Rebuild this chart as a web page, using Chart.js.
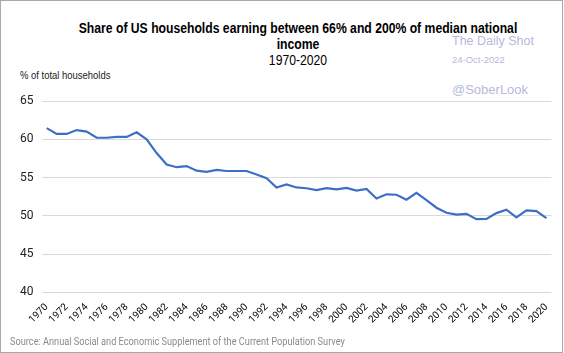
<!DOCTYPE html>
<html>
<head>
<meta charset="utf-8">
<script src="https://cdn.jsdelivr.net/npm/chart.js@4.4.0/dist/chart.umd.min.js"></script>
<style>
  html, body { margin: 0; padding: 0; background: #fff; }
  #wrap { position: relative; width: 564px; height: 353px; overflow: hidden; }
  #frame { position: absolute; left: 0; top: 0; width: 563px; height: 353px; box-sizing: border-box; border: 1px solid #a9a9a9; }
  #chart { position: absolute; left: 0; top: 0; }
  .txt { position: absolute; white-space: nowrap; }
  /* police étroite simulée avec scaleX */
  #title { left: 6px; width: 584px; top: 21px; text-align: center; font: bold 14px "Liberation Sans", Arial, sans-serif; color: #000; line-height: 15.5px; transform: scaleX(0.87); transform-origin: 292px 0; }
  #sub { left: 6px; width: 584px; top: 52px; text-align: center; font: 14px "Liberation Sans", Arial, sans-serif; color: #000; transform: scaleX(0.87); transform-origin: 292px 0; }
  #unit { left: 20px; top: 69px; font: 11px "Liberation Sans", Arial, sans-serif; color: #222; transform: scaleX(0.86); transform-origin: 0 0; }
  .wm { color: #b5b9dd; font-family: "Liberation Sans", Arial, sans-serif; left: 452px; }
  #src { left: 10px; top: 336px; font: 10px Roboto, sans-serif; color: #8a8a8a; transform: scaleX(0.92); transform-origin: 0 0; }
</style>
</head>
<body>
<div id="wrap">
  <div id="frame"></div>
  <div class="txt wm" style="top:34px;font-size:12.5px;">The Daily Shot</div>
  <div class="txt wm" style="top:54px;font-size:9.5px;">24-Oct-2022</div>
  <div class="txt wm" style="top:82px;font-size:13px;">@SoberLook</div>
  <div class="txt" id="title">Share of US households earning between 66% and 200% of median national<br>income</div>
  <div class="txt" id="sub">1970-2020</div>
  <div class="txt" id="unit">% of total households</div>
  <canvas id="chart" width="564" height="353"></canvas>
  <div class="txt" id="src">Source: Annual Social and Economic Supplement of the Current Population Survey</div>
</div>
<script>
// données
const years = [];
for (let y = 1970; y <= 2020; y++) years.push(String(y));

const middleShare = [
  61.45, 60.7, 60.7, 61.2, 61.0, 60.2, 60.2, 60.3, 60.3, 60.9,
  60.0, 58.2, 56.7, 56.35, 56.5, 55.9, 55.75, 56.0, 55.85, 55.85,
  55.85, 55.4, 54.9, 53.7, 54.1, 53.7, 53.6, 53.35, 53.6, 53.45,
  53.65, 53.3, 53.5, 52.25, 52.8, 52.75, 52.1, 53.0, 52.05, 51.05,
  50.4, 50.15, 50.25, 49.55, 49.6, 50.35, 50.8, 49.8, 50.7, 50.6,
  49.7
];

const yTicks = [40, 45, 50, 55, 60, 65];

const ctx = document.getElementById('chart').getContext('2d');

new Chart(ctx, {
  type: 'line',
  data: {
    labels: years,
    datasets: [{
      data: middleShare,
      borderColor: '#3d6fc6',
      borderWidth: 2.2,
      pointRadius: 0,
      tension: 0,
      fill: false
    }]
  },
  options: {
    responsive: false,
    animation: false,
    layout: { padding: { top: 101, left: 20, right: 11.3, bottom: 20 } },
    plugins: {
      legend: { display: false },
      tooltip: { enabled: false }
    },
    scales: {
      x: {
        offset: true,
        grid: { display: false, drawTicks: false },
        border: { display: false },
        ticks: {
          autoSkip: false,
          minRotation: 45,
          maxRotation: 45,
          padding: 9,
          color: '#000',
          font: { family: 'Roboto, sans-serif', size: 10 },
          callback: function(value, index) {
            return index % 2 === 0 ? this.getLabelForValue(value) : '';
          }
        },
        afterFit: function(scale) { scale.height = 353 - 292.3 - 20; }
      },
      y: {
        min: 40,
        max: 65,
        afterBuildTicks: function(scale) {
          scale.ticks = yTicks.map(v => ({ value: v }));
        },
        grid: { color: '#d9d9d9', lineWidth: 1, drawTicks: false },
        border: { display: false },
        ticks: {
          crossAlign: 'far',
          padding: 0,
          color: '#222',
          font: { family: 'Roboto, sans-serif', size: 12 }
        },
        afterFit: function(scale) { scale.width = 21.7; }
      }
    }
  }
});
</script>
</body>
</html>
